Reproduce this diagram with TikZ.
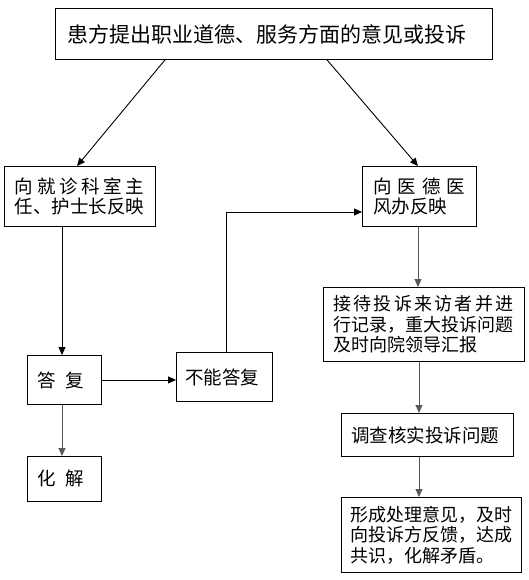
\documentclass[tikz,border=0pt]{standalone}
\usepackage{fontspec}
\newfontfamily\cjk{Noto Sans CJK SC}
\usetikzlibrary{arrows.meta,calc}
\tikzset{
  box/.style={draw, line width=0.9pt, inner sep=0pt, anchor=north west, align=left,
    font=\cjk\fontsize{18.5}{20.5}\selectfont},
  small/.style={font=\cjk\fontsize{18}{20.5}\selectfont},
  big/.style={font=\cjk\fontsize{21}{24}\selectfont},
  arr/.style={line width=0.9pt, -{Triangle[length=8pt,width=7pt]}},
  garr/.style={arr, draw=black!65},
}
\begin{document}
\begin{tikzpicture}[x=1pt,y=-1pt]
\useasboundingbox (0,0) rectangle (528,580);
\node[box, big, minimum width=437, minimum height=51, text width=413] (top) at (55,8)
  {患方提出职业道德、服务方面的意见或投诉};
\node[box, minimum width=151, minimum height=60, text width=130] (kz) at (4,166)
  {\makebox[129pt][s]{向\hfill 就\hfill 诊\hfill 科\hfill 室\hfill 主}\\任、护士长反映};
\node[box, minimum width=114, minimum height=60, text width=92] (yd) at (362,166)
  {\makebox[92pt][s]{向\hfill 医\hfill 德\hfill 医}\\风办反映};
\node[box, small, minimum width=201, minimum height=74, text width=181] (jd) at (323,287)
  {\makebox[180pt][s]{接\hfill 待\hfill 投\hfill 诉\hfill 来\hfill 访\hfill 者\hfill 并\hfill 进}\\行记录，重大投诉问题\\及时向院领导汇报};
\node[box, minimum width=74, minimum height=49, text width=54] (df) at (27,355)
  {答\hspace{10pt}复};
\node[box, minimum width=96, minimum height=49, text width=78] (bn) at (176,352)
  {不能答复};
\node[box, minimum width=74, minimum height=45, text width=54] (hj) at (27,456)
  {化\hspace{10pt}解};
\node[box, minimum width=172, minimum height=43, text width=152] (dc) at (341,413)
  {调查核实投诉问题};
\node[box, small, minimum width=180, minimum height=75, text width=162] (xc) at (341,497)
  {形成处理意见，及时\\向投诉方反馈，达成\\共识，化解矛盾。};
% connectors
\draw[arr] ([xshift=110pt]top.south west) -- ([xshift=73pt]kz.north west);
\draw[arr] ([xshift=272pt]top.south west) -- ([xshift=56pt]yd.north west);
\draw[arr] ([xshift=58pt]kz.south west) -- ([xshift=35pt]df.north west);
\draw[arr] (df.east) -- (bn.west |- df.east);
\draw[garr] ([xshift=35pt]df.south west) -- ([xshift=35pt]hj.north west);
\draw[arr] ([xshift=50pt]bn.north west) |- ([yshift=-46pt]yd.north west);
\coordinate (c1) at ([xshift=56pt]yd.south west);
\draw[garr] (c1) -- (c1 |- jd.north);
\coordinate (c2) at ([xshift=96pt]jd.south west);
\draw[garr] (c2) -- (c2 |- dc.north);
\coordinate (c3) at ([xshift=78pt]dc.south west);
\draw[garr] (c3) -- (c3 |- xc.north);
\end{tikzpicture}
\end{document}
